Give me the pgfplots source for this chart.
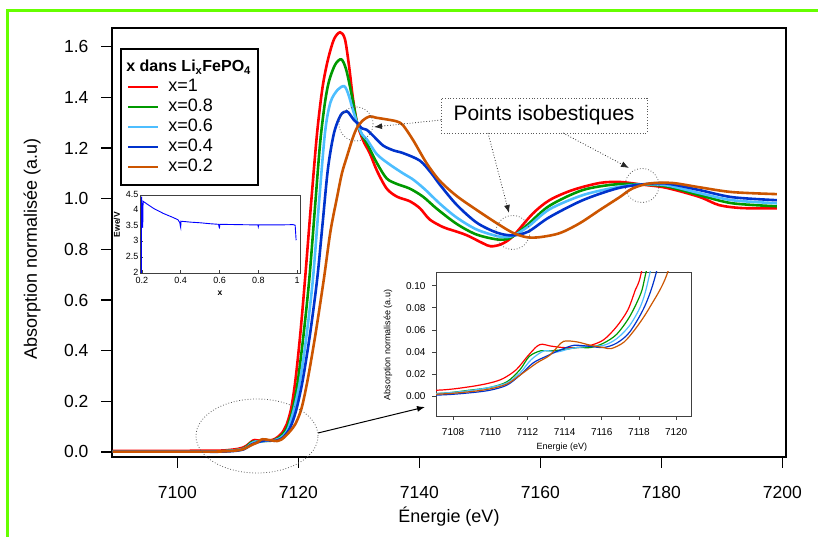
\documentclass[border=0pt]{standalone}
\usepackage{fontspec}
\setmainfont{Liberation Sans}
\usepackage{pgfplots}
\pgfplotsset{compat=1.18}
\usepackage{pgfplotstable}
\usetikzlibrary{arrows.meta}

\definecolor{cRed}{RGB}{255,0,0}
\definecolor{cGreen}{RGB}{0,153,0}
\definecolor{cLBlue}{RGB}{77,190,255}
\definecolor{cBlue}{RGB}{0,51,204}
\definecolor{cOrange}{RGB}{204,85,0}
\definecolor{frameGreen}{RGB}{102,255,0}

\pgfplotsset{
  /pgf/number format/assume math mode=true,
  /pgf/number format/1000 sep={},
}

% spectra, x = 1, 0.8, 0.6, 0.4, 0.2
\pgfplotstableread{
E A
7089.3 0.004
7095 0.004
7100 0.004
7104 0.005
7107.2 0.0054
7108.9 0.0085
7110.0 0.012
7110.7 0.016
7111.4 0.024
7112.0 0.036
7112.5 0.045
7112.8 0.047
7113.2 0.0455
7113.9 0.044
7114.7 0.044
7115.4 0.046
7116.1 0.051
7116.8 0.063
7117.4 0.078
7117.8 0.096
7118.1 0.11
7118.8 0.17
7119.5 0.28
7120.3 0.46
7121.1 0.68
7122.1 0.98
7123.1 1.26
7124.0 1.44
7124.9 1.55
7125.9 1.63
7126.9 1.657
7127.7 1.63
7128.4 1.52
7129.0 1.40
7129.7 1.30
7130.7 1.23
7131.8 1.18
7133.0 1.11
7134.6 1.04
7136.3 1.008
7138.4 0.99
7140.1 0.962
7141.7 0.918
7143.9 0.888
7145.5 0.875
7147.8 0.856
7150.5 0.824
7151.8 0.812
7153.5 0.82
7155.4 0.85
7158.7 0.94
7161.5 0.994
7165.3 1.034
7169.8 1.062
7173.1 1.066
7176.7 1.056
7180.8 1.043
7186.3 1.007
7189.5 0.975
7193.3 0.963
7199.1 0.962
}\tabRed

\pgfplotstableread{
E A
7089.3 0.002
7095 0.002
7100 0.002
7104 0.002
7107.2 0.0024
7108.9 0.0054
7110.0 0.0079
7110.9 0.013
7111.6 0.024
7112.1 0.036
7112.7 0.041
7113.2 0.041
7113.9 0.042
7114.7 0.044
7115.4 0.044
7116.1 0.048
7116.8 0.056
7117.5 0.072
7118.1 0.093
7118.35 0.11
7119.0 0.16
7119.8 0.26
7120.8 0.45
7121.8 0.68
7122.7 0.95
7123.6 1.22
7124.4 1.38
7125.1 1.467
7126.1 1.53
7127.1 1.55
7127.9 1.51
7128.9 1.40
7129.7 1.30
7130.7 1.243
7131.3 1.22
7133.0 1.14
7134.6 1.08
7136.3 1.058
7138.4 1.04
7140.6 1.008
7142.9 0.96
7146.2 0.90
7149.5 0.858
7153.3 0.838
7155.4 0.85
7158.0 0.90
7161.5 0.972
7167.0 1.034
7172.6 1.057
7176.7 1.056
7180.8 1.049
7186.3 1.014
7191.7 0.982
7199.1 0.970
}\tabGreen

\pgfplotstableread{
E A
7089.3 0.002
7100 0.002
7104 0.002
7107.2 0.0025
7108.9 0.005
7110.0 0.008
7110.9 0.012
7111.6 0.021
7112.2 0.033
7112.9 0.041
7113.6 0.040
7114.3 0.043
7115.2 0.045
7116.1 0.046
7116.8 0.052
7117.5 0.064
7118.1 0.082
7118.5 0.105
7119.3 0.17
7120.2 0.27
7121.3 0.45
7122.4 0.68
7123.4 0.98
7124.4 1.26
7125.3 1.38
7126.5 1.43
7127.6 1.444
7128.3 1.41
7128.9 1.36
7129.7 1.30
7130.5 1.255
7131.3 1.235
7133.0 1.175
7135.1 1.135
7137.3 1.10
7139.0 1.075
7141.0 1.035
7143.4 0.98
7146.2 0.925
7149.5 0.878
7153.3 0.85
7155.4 0.853
7158.0 0.89
7161.5 0.958
7167.0 1.014
7172.6 1.045
7176.7 1.056
7180.8 1.053
7186.3 1.022
7191.7 0.994
7199.1 0.982
}\tabLBlue

\pgfplotstableread{
E A
7089.3 0.001
7100 0.001
7104 0.001
7107.2 0.001
7108.9 0.003
7110.0 0.0054
7110.9 0.010
7111.6 0.019
7112.3 0.030
7113.0 0.036
7113.8 0.042
7114.5 0.046
7115.4 0.045
7116.1 0.044
7116.8 0.048
7117.5 0.058
7118.3 0.081
7118.9 0.11
7119.7 0.17
7120.7 0.28
7121.9 0.46
7123.1 0.68
7124.0 0.90
7124.9 1.12
7125.9 1.26
7127.0 1.33
7128.0 1.345
7128.6 1.33
7129.2 1.31
7129.7 1.30
7130.5 1.278
7131.3 1.272
7132.3 1.25
7134.0 1.21
7135.8 1.19
7137.3 1.18
7140.1 1.15
7142.0 1.10
7143.4 1.055
7146.2 0.975
7149.5 0.905
7152.8 0.866
7155.4 0.855
7158.0 0.87
7161.5 0.927
7167.0 0.994
7172.6 1.04
7176.7 1.056
7180.8 1.06
7186.3 1.034
7191.7 1.006
7199.1 0.994
}\tabBlue

\pgfplotstableread{
E A
7089.3 0.001
7100 0.001
7104 0.001
7107.2 0.0018
7108.9 0.004
7110.0 0.0066
7110.9 0.011
7111.6 0.019
7112.5 0.030
7113.2 0.037
7113.8 0.048
7114.1 0.050
7114.7 0.049
7115.4 0.046
7116.1 0.044
7116.5 0.043
7117.2 0.049
7117.9 0.063
7118.6 0.081
7119.5 0.11
7120.5 0.17
7121.5 0.28
7122.8 0.46
7124.2 0.68
7125.3 0.87
7126.4 1.006
7127.2 1.10
7128.0 1.164
7129.0 1.24
7129.7 1.28
7130.7 1.31
7131.8 1.325
7132.8 1.32
7134.6 1.313
7136.3 1.305
7137.3 1.29
7139.0 1.23
7141.2 1.14
7143.4 1.07
7146.2 1.01
7149.5 0.955
7152.8 0.903
7155.4 0.866
7157.7 0.848
7159.9 0.848
7163.2 0.864
7166.5 0.903
7169.8 0.955
7173.1 1.006
7175.2 1.04
7178.0 1.06
7181.8 1.062
7186.3 1.045
7191.7 1.026
7199.1 1.018
}\tabOrange

% potential vs x (inset)
\pgfplotstableread{
x V
0.197 2.0
0.198 4.45
0.204 3.45
0.206 4.30
0.21 4.28
0.26 4.07
0.31 3.91
0.36 3.78
0.385 3.71
0.395 3.62
0.398 3.50
0.400 3.45
0.401 3.66
0.45 3.63
0.50 3.61
0.55 3.58
0.595 3.56
0.598 3.47
0.600 3.45
0.601 3.56
0.70 3.55
0.798 3.54
0.800 3.48
0.802 3.54
0.90 3.54
0.98 3.55
0.99 3.53
0.995 3.05
}\tabEwe

\begin{document}
\begin{tikzpicture}[x=1pt,y=1pt]
\useasboundingbox (0,0) rectangle (818,537);
\draw[frameGreen, line width=3pt] (7.5,0) -- (7.5,526.5) -- (818,526.5);

\begin{axis}[
  at={(112pt,80pt)}, anchor=south west,
  scale only axis, width=674pt, height=429pt,
  xmin=7089.2, xmax=7200.6, ymin=-0.02, ymax=1.674,
  xtick={7100,7120,7140,7160,7180,7200},
  ytick={0,0.2,0.4,0.6,0.8,1.0,1.2,1.4,1.6},
  yticklabel style={/pgf/number format/fixed, /pgf/number format/fixed zerofill,
    /pgf/number format/precision=1, xshift=-9pt},
  tick align=outside, tick pos=left, major tick length=11pt,
  axis line style={line width=1.5pt},
  every tick/.style={black, line width=1.5pt},
  tick label style={font=\fontsize{17.5}{20}\selectfont},
  xticklabel style={yshift=-15pt},
  xlabel={Énergie (eV)}, ylabel={Absorption normalisée (a.u)},
  label style={font=\fontsize{18}{21}\selectfont},
  xlabel style={at={(axis description cs:0.5,-0.14)}, anchor=center},
  ylabel style={at={(axis description cs:-0.1187,0.485)}, anchor=center},
  legend style={at={(axis description cs:0.0119,0.953)}, anchor=north west,
    draw=black, line width=1.5pt, fill=white,
    font=\fontsize{18}{20}\selectfont,
    inner xsep=6pt, inner ysep=8pt, row sep=0pt, column sep=8pt,
    nodes={text height=14pt, text depth=4pt, inner sep=1pt}},
  legend cell align=left,
  legend image code/.code={\draw[#1, line width=2.6pt] (0pt,0pt) -- (30pt,0pt);},
]
\addlegendimage{empty legend}
\addlegendentry{\hspace{-42pt}{\fontsize{16}{18}\selectfont\bfseries x dans Li\textsubscript{x}FePO\textsubscript{4}}}
\addplot[cRed, line width=2.6pt, smooth] table {\tabRed};
\addlegendentry{x=1}
\addplot[cGreen, line width=2.6pt, smooth] table {\tabGreen};
\addlegendentry{x=0.8}
\addplot[cLBlue, line width=2.6pt, smooth] table {\tabLBlue};
\addlegendentry{x=0.6}
\addplot[cBlue, line width=2.6pt, smooth] table {\tabBlue};
\addlegendentry{x=0.4}
\addplot[cOrange, line width=2.6pt, smooth] table {\tabOrange};
\addlegendentry{x=0.2}
\end{axis}

% inset: potential
\begin{axis}[
  at={(140pt,264pt)}, anchor=south west,
  scale only axis, width=160pt, height=78pt,
  xmin=0.19, xmax=1.015, ymin=2, ymax=4.5,
  xtick={0.2,0.4,0.6,0.8,1}, ytick={2,2.5,3,3.5,4,4.5},
  axis background/.style={fill=white},
  axis line style={line width=0.8pt, black!75},
  tick align=inside, tick pos=left, major tick length=2.5pt,
  every tick/.style={black!75, line width=0.6pt},
  tick label style={font=\fontsize{9}{10}\selectfont, inner sep=1.5pt},
  xticklabel style={yshift=-3pt},
  yticklabel style={yshift=1pt},
  xlabel={\textbf{x}}, ylabel={\textbf{Ewe/V}},
  label style={font=\fontsize{8.5}{9}\selectfont},
  xlabel style={at={(axis description cs:0.5,-0.26)}, anchor=center},
  ylabel style={at={(axis description cs:-0.144,0.62)}, anchor=center},
]
\addplot[blue, line width=0.9pt] table {\tabEwe};
\end{axis}

% inset: pre-edge
\begin{axis}[
  at={(436pt,121pt)}, anchor=south west,
  scale only axis, width=255pt, height=144pt,
  xmin=7107.08, xmax=7120.8, ymin=-0.018, ymax=0.1124,
  xtick={7108,7110,7112,7114,7116,7118,7120},
  ytick={0,0.02,0.04,0.06,0.08,0.1},
  scaled y ticks=false,
  yticklabel style={/pgf/number format/fixed, /pgf/number format/fixed zerofill,
    /pgf/number format/precision=2, xshift=-3pt},
  axis background/.style={fill=white},
  axis line style={line width=0.9pt, black!75},
  tick align=outside, tick pos=left, major tick length=4pt,
  every tick/.style={black!75, line width=0.7pt},
  tick label style={font=\fontsize{10}{11}\selectfont},
  xticklabel style={yshift=-5pt},
  xlabel={Energie (eV)}, ylabel={Absorption normalisée (a.u)},
  label style={font=\fontsize{9}{10}\selectfont},
  xlabel style={at={(axis description cs:0.494,-0.215)}, anchor=center},
  ylabel style={at={(axis description cs:-0.188,0.493)}, anchor=center},
]
\addplot[cRed, line width=1.2pt, smooth] table {\tabRed};
\addplot[cGreen, line width=1.2pt, smooth] table {\tabGreen};
\addplot[cLBlue, line width=1.2pt, smooth] table {\tabLBlue};
\addplot[cBlue, line width=1.2pt, smooth] table {\tabBlue};
\addplot[cOrange, line width=1.2pt, smooth] table {\tabOrange};
\end{axis}

% annotations
\begin{scope}[black!65, dotted, line width=0.8pt]
\draw (356,413) circle (17);
\draw (512.7,304.5) circle (17);
\draw (642,351.5) circle (17);
\draw (257,101) ellipse [x radius=61, y radius=37];
\end{scope}
\node[draw=black!65, dotted, line width=0.8pt, minimum width=206pt, minimum height=35pt,
  inner sep=0pt, font=\fontsize{21}{24}\selectfont] at (544,421.5) {Points isobestiques};
\begin{scope}[black!85, dotted, line width=0.8pt, -{Latex[length=8pt,width=6pt]}]
\draw (441,417) -- (374,410);
\draw (488,404) -- (509,324);
\draw (563,404) -- (629,369);
\end{scope}
\draw[black, line width=1pt, -{Latex[length=8pt,width=6pt]}] (318,104) -- (425,130);
\end{tikzpicture}
\end{document}
